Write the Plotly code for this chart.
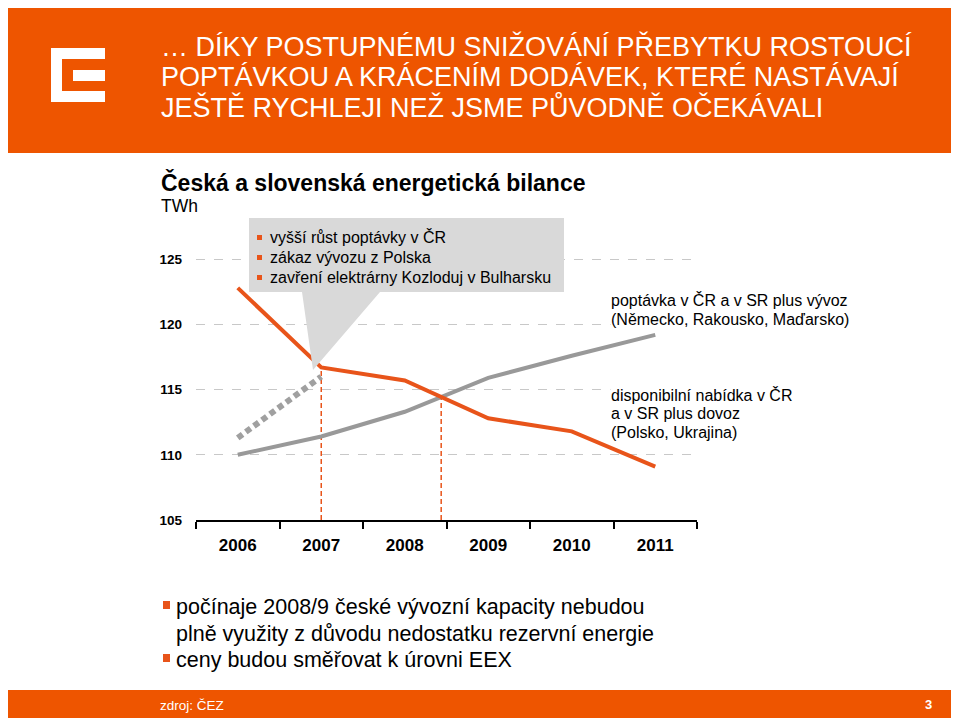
import plotly.graph_objects as go

# ---- data ----
years = [2006, 2007, 2008, 2009, 2010, 2011]
year_labels = ["2006", "2007", "2008", "2009", "2010", "2011"]
supply = [122.8, 116.7, 115.7, 112.8, 111.8, 109.1]      # orange: disponibilní nabídka
demand = [110.0, 111.4, 113.3, 115.9, 117.6, 119.2]      # gray: poptávka
demand_old_x = [2006, 2007]
demand_old = [111.3, 116.0]                               # gray dotted
y_ticks = [105, 110, 115, 120, 125]
y_tick_labels = ["105", "110", "115", "120", "125"]

title_lines = [
    "… DÍKY POSTUPNÉMU SNIŽOVÁNÍ PŘEBYTKU ROSTOUCÍ",
    "POPTÁVKOU A KRÁCENÍM DODÁVEK, KTERÉ NASTÁVAJÍ",
    "JEŠTĚ RYCHLEJI NEŽ JSME PŮVODNĚ OČEKÁVALI",
]
callout_lines = [
    "vyšší růst poptávky v ČR",
    "zákaz vývozu z Polska",
    "zavření elektrárny Kozloduj v Bulharsku",
]
demand_label = ["poptávka v ČR a v SR plus vývoz", "(Německo, Rakousko, Maďarsko)"]
supply_label = ["disponibilní nabídka v ČR", "a v SR plus dovoz", "(Polsko, Ukrajina)"]
bottom_lines = [
    ("počínaje 2008/9 české vývozní kapacity nebudou", True),
    ("plně využity z důvodu nedostatku rezervní energie", False),
    ("ceny budou směřovat k úrovni EEX", True),
]

ORANGE = "#EE5500"
LINE_OR = "#E8541A"
GRAY = "#999999"
FONT = "Liberation Sans, Arial"

# ---- geometry (screen pixels; page body has an 8px offset) ----
W, H = 959, 721
OFF = 8
L, R, T, B = 196, 697, 210, 520
PW, PH = R - L, B - T


def px(x):
    return (x - L) / PW


def py(y):
    return (B - y) / PH


XR = [2005.5, 2011.5]
YR = [105, 105 + (B - T) / 13.04]


def dx(x):  # pixel -> data x
    return XR[0] + (x - L) / PW * (XR[1] - XR[0])


def dy(y):  # pixel -> data y
    return YR[0] + (B - y) / PH * (YR[1] - YR[0])


# intersection of supply and demand
cross_x, cross_y = None, None
for i in range(len(years) - 1):
    d0 = supply[i] - demand[i]
    d1 = supply[i + 1] - demand[i + 1]
    if d0 > 0 and d1 <= 0:
        t = d0 / (d0 - d1)
        cross_x = years[i] + t * (years[i + 1] - years[i])
        cross_y = supply[i] + t * (supply[i + 1] - supply[i])
        break

fig = go.Figure()

fig.add_trace(go.Scatter(x=[years[1], years[1]], y=[YR[0], supply[1]], mode="lines",
                         line=dict(color=LINE_OR, width=1.5, dash="5px,3px"),
                         hoverinfo="skip", showlegend=False))
fig.add_trace(go.Scatter(x=[cross_x, cross_x], y=[YR[0], cross_y], mode="lines",
                         line=dict(color=LINE_OR, width=1.5, dash="5px,3px"),
                         hoverinfo="skip", showlegend=False))
fig.add_trace(go.Scatter(x=demand_old_x, y=demand_old, mode="lines",
                         line=dict(color="#A0A0A0", width=6, dash="6px,4px"),
                         showlegend=False))
fig.add_trace(go.Scatter(x=years, y=demand, mode="lines",
                         line=dict(color=GRAY, width=4), showlegend=False))
fig.add_trace(go.Scatter(x=years, y=supply, mode="lines",
                         line=dict(color=LINE_OR, width=4), showlegend=False))

shapes = []
shapes.append(dict(type="rect", xref="paper", yref="paper",
                   x0=px(2), x1=px(955), y0=py(153), y1=py(2),
                   fillcolor=ORANGE, line=dict(width=0), layer="below"))
for (x0, y0, x1, y1) in [(51, 48, 62, 102), (51, 48, 105, 59), (51, 91, 105, 102), (73, 70, 105, 81)]:
    shapes.append(dict(type="rect", xref="paper", yref="paper",
                       x0=px(x0), x1=px(x1), y0=py(y1), y1=py(y0),
                       fillcolor="white", line=dict(width=0), layer="below"))
shapes.append(dict(type="rect", xref="paper", yref="paper",
                   x0=px(5), x1=px(955), y0=py(718), y1=py(690),
                   fillcolor=ORANGE, line=dict(width=0), layer="below"))

cx0, cx1, cy0, cy1 = dx(249), dx(564), dy(292), dy(218)
tip_x, tip_y = dx(313), dy(370)
bx0, bx1 = dx(302), dx(380)
path = (f"M {cx0},{cy1} L {cx1},{cy1} L {cx1},{cy0} L {bx1},{cy0} "
        f"L {tip_x},{tip_y} L {bx0},{cy0} L {cx0},{cy0} Z")
shapes.append(dict(type="path", xref="x", yref="y", path=path,
                   fillcolor="#D9D9D9", line=dict(width=0), layer="above"))

annotations = []
for i, line in enumerate(title_lines):
    annotations.append(dict(xref="paper", yref="paper", x=px(159), y=py(47 + 30 * i),
                            xanchor="left", yanchor="middle", showarrow=False, text=line,
                            font=dict(family=FONT, size=27, color="white")))
annotations.append(dict(xref="paper", yref="paper", x=px(159), y=py(183), xanchor="left",
                        yanchor="middle", showarrow=False,
                        text="<b>Česká a slovenská energetická bilance</b>",
                        font=dict(family=FONT, size=23, color="black")))
annotations.append(dict(xref="paper", yref="paper", x=px(159), y=py(206), xanchor="left",
                        yanchor="middle", showarrow=False, text="TWh",
                        font=dict(family=FONT, size=17.5, color="black")))
for i, line in enumerate(callout_lines):
    yc = 237 + 20 * i
    shapes.append(dict(type="rect", xref="paper", yref="paper",
                       x0=px(257), x1=px(262), y0=py(yc + 3), y1=py(yc - 2),
                       fillcolor=LINE_OR, line=dict(width=0), layer="above"))
    annotations.append(dict(xref="paper", yref="paper", x=px(268), y=py(yc), xanchor="left",
                            yanchor="middle", showarrow=False, text=line,
                            font=dict(family=FONT, size=16, color="black")))
for i, line in enumerate(demand_label):
    annotations.append(dict(xref="paper", yref="paper", x=px(610), y=py(300 + 19 * i),
                            xanchor="left", yanchor="middle", showarrow=False, text=line,
                            bgcolor="white", borderpad=0,
                            font=dict(family=FONT, size=16, color="black")))
for i, line in enumerate(supply_label):
    annotations.append(dict(xref="paper", yref="paper", x=px(610), y=py(395 + 18.5 * i),
                            xanchor="left", yanchor="middle", showarrow=False, text=line,
                            bgcolor="white", borderpad=0,
                            font=dict(family=FONT, size=16, color="black")))
for i, (line, bullet) in enumerate(bottom_lines):
    yc = 607 + 26.5 * i
    if bullet:
        shapes.append(dict(type="rect", xref="paper", yref="paper",
                           x0=px(163), x1=px(170), y0=py(yc + 2), y1=py(yc - 6),
                           fillcolor=LINE_OR, line=dict(width=0)))
    annotations.append(dict(xref="paper", yref="paper", x=px(174), y=py(yc), xanchor="left",
                            yanchor="middle", showarrow=False, text=line,
                            font=dict(family=FONT, size=21.5, color="black")))
annotations.append(dict(xref="paper", yref="paper", x=px(158), y=py(705), xanchor="left",
                        yanchor="middle", showarrow=False, text="zdroj: ČEZ",
                        font=dict(family=FONT, size=13.5, color="white")))
annotations.append(dict(xref="paper", yref="paper", x=px(928), y=py(704), xanchor="center",
                        yanchor="middle", showarrow=False, text="<b>3</b>",
                        font=dict(family=FONT, size=13, color="white")))

fig.update_layout(
    width=W, height=H,
    margin=dict(l=L - OFF, r=W - (R - OFF), t=T - OFF, b=H - (B - OFF), pad=0),
    paper_bgcolor="white", plot_bgcolor="white",
    showlegend=False,
    xaxis=dict(range=XR, tickvals=years, ticktext=year_labels, ticks="",
               showgrid=False, zeroline=False, showline=True, linecolor="black", linewidth=1.5,
               ticklabelstandoff=9,
               tickfont=dict(family=FONT, size=17, color="black", weight="bold"),
               minor=dict(tickvals=[y - 0.5 for y in years] + [years[-1] + 0.5],
                          ticks="outside", ticklen=7, tickwidth=1.5, tickcolor="black",
                          showgrid=False)),
    yaxis=dict(range=YR, tickvals=y_ticks, ticktext=y_tick_labels, ticks="",
               showgrid=True, gridcolor="#C8C8C8", gridwidth=1, griddash="dash",
               zeroline=False, showline=False, ticklabelstandoff=13,
               tickfont=dict(family=FONT, size=13.5, color="black", weight="bold")),
    shapes=shapes,
    annotations=annotations,
)

fig.write_html("out.html")
